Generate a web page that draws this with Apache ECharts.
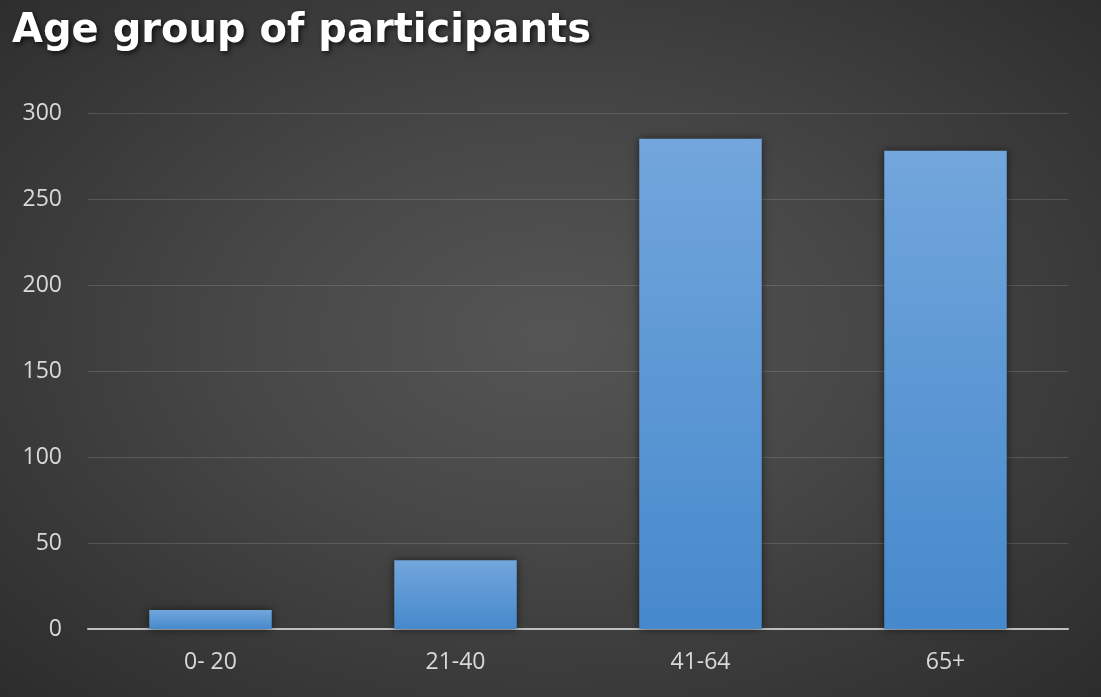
<!DOCTYPE html>
<html>
<head>
<meta charset="utf-8">
<script src="https://cdn.jsdelivr.net/npm/echarts@6/dist/echarts.min.js"></script>
<style>
html,body{margin:0;padding:0;background:#2b2b2b;}
#chart{width:1101px;height:697px;background:radial-gradient(ellipse at 50% 48%, #555555 0%, #474747 40%, #2c2c2c 100%);}
</style>
</head>
<body>
<div id="chart"></div>
<script>
const categories = ['0- 20', '21-40', '41-64', '65+'];
const values = [11, 40, 285, 278];
const yTicks = [0, 50, 100, 150, 200, 250, 300];

const chart = echarts.init(document.getElementById('chart'), null, {renderer: 'canvas'});
chart.setOption({
  backgroundColor: 'transparent',
  animation: false,
  title: {
    text: 'Age group of participants',
    left: 7, top: 7,
    textStyle: {
      color: '#ffffff', fontFamily: 'DejaVu Sans', fontWeight: 'bold', fontSize: 40,
      textShadowColor: 'rgba(0,0,0,0.7)', textShadowBlur: 5, textShadowOffsetX: 2, textShadowOffsetY: 2
    }
  },
  grid: {left: 88, right: 33, top: 113, bottom: 68, containLabel: false},
  xAxis: {
    type: 'category',
    data: categories,
    axisLine: {show: true, lineStyle: {color: '#bfbfbf', width: 2}},
    axisTick: {show: false},
    axisLabel: {color: '#d9d9d9', fontFamily: 'Open Sans', fontSize: 23, margin: 22},
    splitLine: {show: false}
  },
  yAxis: {
    type: 'value',
    min: yTicks[0], max: yTicks[yTicks.length - 1], interval: 50,
    axisLine: {show: false},
    axisTick: {show: false},
    axisLabel: {color: '#d9d9d9', fontFamily: 'Open Sans', fontSize: 23, margin: 26},
    splitLine: {lineStyle: {color: 'rgba(255,255,255,0.14)', width: 1}}
  },
  series: [{
    type: 'bar',
    data: values,
    barWidth: '50%',
    itemStyle: {
      color: new echarts.graphic.LinearGradient(0, 0, 0, 1, [
        {offset: 0, color: '#72a6dc'},
        {offset: 1, color: '#4689cc'}
      ]),
      shadowColor: 'rgba(0,0,0,0.55)', shadowBlur: 8, shadowOffsetX: 0, shadowOffsetY: 0
    }
  }]
});
</script>
</body>
</html>
